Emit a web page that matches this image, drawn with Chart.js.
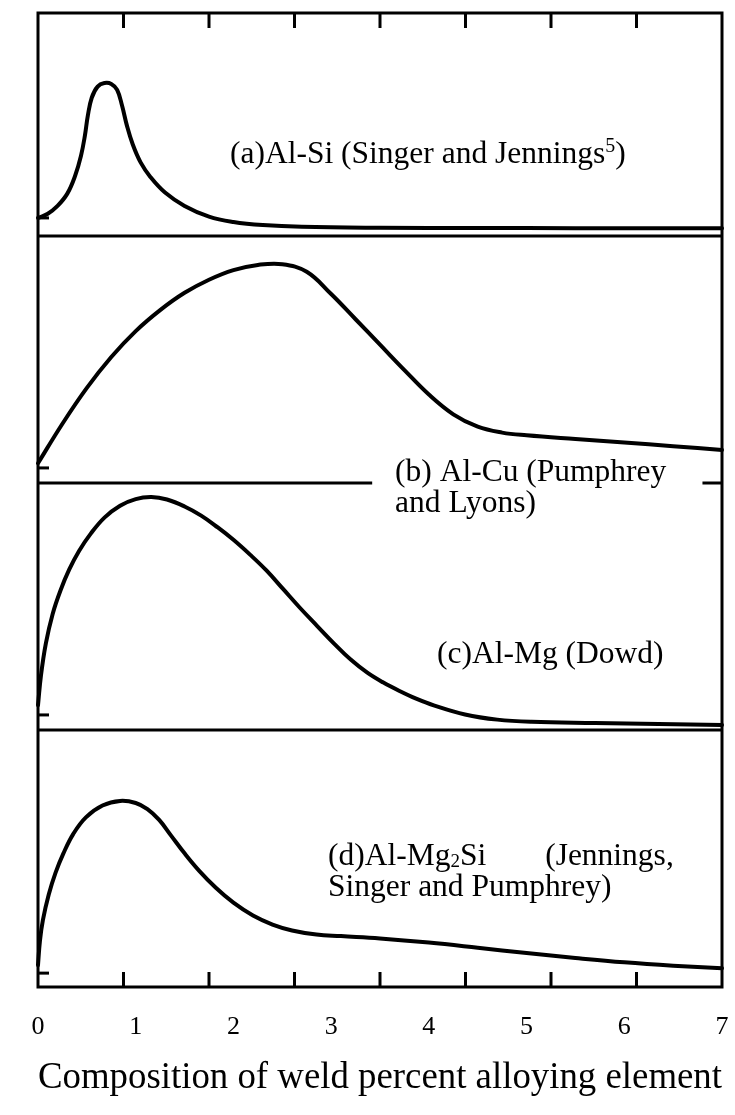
<!DOCTYPE html>
<html>
<head>
<meta charset="utf-8">
<script src="https://cdn.jsdelivr.net/npm/chart.js@4.4.0/dist/chart.umd.min.js"></script>
<style>
  html, body { margin: 0; padding: 0; background: #fff; overflow: hidden; }
  canvas { display: block; }
</style>
</head>
<body>
<canvas id="chart" width="735" height="1115"></canvas>
<script>
const X_TICKS = [0, 1, 2, 3, 4, 5, 6, 7];
const X_TITLE = "Composition of weld percent alloying element";

// (a) Al-Si
const siX = [0, 0.1, 0.2, 0.3, 0.38, 0.44, 0.48, 0.51, 0.55, 0.61, 0.68, 0.75, 0.81, 0.86, 0.91, 0.97, 1.05, 1.15, 1.3, 1.5, 1.75, 2.0, 2.3, 2.7, 3.5, 4.5, 5.5, 7.0];
const siY = [8.1, 10, 13.5, 19, 27, 36, 45, 54, 62, 67, 68.6, 68.2, 65.5, 58.5, 49.5, 41, 33, 26.5, 19.5, 13.5, 8.7, 6.3, 4.9, 4.1, 3.7, 3.6, 3.5, 3.5];

// (b) Al-Cu
const cuX = [0, 0.25, 0.5, 0.75, 1.0, 1.25, 1.5, 1.75, 2.0, 2.25, 2.5, 2.75, 3.0, 3.25, 3.5, 3.75, 4.0, 4.25, 4.5, 4.75, 5.0, 5.5, 6.0, 6.5, 7.0];
const cuY = [8, 24, 38.5, 51, 61.5, 70, 77, 82.3, 86.2, 88.3, 88.6, 85.5, 76.5, 66.3, 56, 45.7, 35.8, 27.8, 22.8, 20.4, 19.3, 17.8, 16.4, 14.9, 13.4];

// (c) Al-Mg
const mgX = [0, 0.03, 0.08, 0.15, 0.23, 0.32, 0.42, 0.54, 0.68, 0.84, 1.0, 1.16, 1.32, 1.5, 1.67, 1.84, 2.0, 2.17, 2.34, 2.51, 2.68, 2.86, 3.03, 3.2, 3.37, 3.53, 3.7, 3.87, 4.05, 4.37, 4.7, 5.05, 5.7, 6.35, 7.0];
const mgY = [10, 22, 35, 47, 56.5, 65, 72.5, 79.5, 86, 90.8, 93.5, 94.3, 93.3, 90.5, 86.8, 82, 77, 71, 64.5, 57, 49.5, 42, 35, 28.5, 23.2, 19.3, 15.8, 12.7, 10, 6.3, 4.2, 3.3, 2.8, 2.4, 2.0];

// (d) Al-Mg2Si
const mg2siX = [0, 0.02, 0.05, 0.11, 0.18, 0.26, 0.36, 0.49, 0.66, 0.84, 1.0, 1.12, 1.24, 1.36, 1.5, 1.65, 1.82, 2.0, 2.2, 2.4, 2.6, 2.85, 3.1, 3.5, 4.0, 4.5, 5.0, 5.5, 6.0, 6.5, 7.0];
const mg2siY = [8.5, 18, 26, 36, 44.5, 52, 59.5, 66, 70.6, 72.4, 71.6, 69.2, 65, 59, 52, 45.2, 38.6, 32.8, 27.8, 24.3, 22.0, 20.4, 19.8, 18.9, 17.3, 15.3, 13.2, 11.3, 9.6, 8.3, 7.3];

// short zero marks on the left edge of each panel
const baselineMarks = [8.1, 6.1, 6.1, 5.4];

const PANEL_AXES = ["ya", "yb", "yc", "yd"];
const PANEL_WEIGHTS = [223, 247, 247, 257];
const FRAME_DIVISIONS = 8;
const SERIF = "'Liberation Serif', 'Times New Roman', serif";
const LABEL_SIZE = 31.5;

const panelLabels = [
    { axis: "ya", x: 1.965, y: 32.7, lines: [[{ t: "(a)Al-Si (Singer and Jennings" }, { t: "5", sup: true }, { t: ")" }]] },
    { axis: "yb", x: 3.654, y: 0.8, box: { x0: 3.42, x1: 6.8, up: 29, down: 10 },
      lines: [[{ t: "(b) Al-Cu (Pumphrey" }], [{ t: "and Lyons)" }]] },
    { axis: "yc", x: 4.083, y: 27.1, lines: [[{ t: "(c)Al-Mg (Dowd)" }]] },
    { axis: "yd", x: 2.968, y: 47.5,
      lines: [[{ t: "(d)Al-Mg" }, { t: "2", sub: true }, { t: "Si" }, { t: "(Jennings,", at: 5.19 }],
              [{ t: "Singer and Pumphrey)" }]] }
];

function toPoints(xs, ys) {
    return xs.map((x, i) => ({ x: x, y: ys[i] }));
}

function curve(label, xs, ys, axis) {
    return {
        label: label,
        data: toPoints(xs, ys),
        yAxisID: axis,
        borderColor: "#000",
        borderWidth: 4,
        pointRadius: 0,
        fill: false,
        tension: 0.4,
        borderCapStyle: "round",
        borderJoinStyle: "round",
        clip: false
    };
}

function panelAxis(i) {
    return {
        type: "linear",
        position: "left",
        stack: "panels",
        stackWeight: PANEL_WEIGHTS[i],
        weight: 10 - i,
        min: 0,
        max: 100,
        display: false
    };
}

const framePlugin = {
    id: "frame",
    afterDatasetsDraw(chart) {
        const { ctx, chartArea: a, scales } = chart;
        const xs = scales.x;
        const line = (x1, y1, x2, y2) => {
            ctx.beginPath();
            ctx.moveTo(x1, y1);
            ctx.lineTo(x2, y2);
            ctx.stroke();
        };
        ctx.save();
        ctx.strokeStyle = "#000";
        ctx.lineWidth = 3;
        ctx.strokeRect(a.left, a.top, a.right - a.left, a.bottom - a.top);

        PANEL_AXES.slice(1).forEach(id => {
            const y = scales[id].top;
            line(a.left, y, a.right, y);
        });

        for (let k = 1; k < FRAME_DIVISIONS; k++) {
            const px = xs.getPixelForValue(k * xs.max / FRAME_DIVISIONS);
            line(px, a.top, px, a.top + 15);
            line(px, a.bottom, px, a.bottom - 15);
        }

        PANEL_AXES.forEach((id, i) => {
            const py = scales[id].getPixelForValue(baselineMarks[i]);
            line(a.left, py, a.left + 11, py);
        });

        ctx.fillStyle = "#000";
        ctx.textBaseline = "alphabetic";
        ctx.textAlign = "left";
        panelLabels.forEach(lab => {
            const ys = scales[lab.axis];
            const x0 = xs.getPixelForValue(lab.x);
            const y0 = ys.getPixelForValue(lab.y);
            const gap = 31;
            if (lab.box) {
                const bx0 = xs.getPixelForValue(lab.box.x0);
                const bx1 = xs.getPixelForValue(lab.box.x1);
                const top = y0 - lab.box.up;
                const bottom = y0 + gap * (lab.lines.length - 1) + lab.box.down;
                ctx.fillStyle = "#fff";
                ctx.fillRect(bx0, top, bx1 - bx0, bottom - top);
                ctx.fillStyle = "#000";
            }
            lab.lines.forEach((runs, li) => {
                let cx = x0;
                const by = y0 + li * gap;
                runs.forEach(r => {
                    if (r.at !== undefined) cx = xs.getPixelForValue(r.at);
                    let size = LABEL_SIZE, dy = 0;
                    if (r.sup) { size = 20; dy = -11; }
                    if (r.sub) { size = 19; dy = 2; }
                    ctx.font = size + "px " + SERIF;
                    ctx.fillText(r.t, cx, by + dy);
                    cx += ctx.measureText(r.t).width;
                });
            });
        });
        ctx.restore();
    }
};

new Chart(document.getElementById("chart"), {
    type: "line",
    data: {
        datasets: [
            curve("Al-Si", siX, siY, "ya"),
            curve("Al-Cu", cuX, cuY, "yb"),
            curve("Al-Mg", mgX, mgY, "yc"),
            curve("Al-Mg2Si", mg2siX, mg2siY, "yd")
        ]
    },
    options: {
        responsive: false,
        animation: false,
        devicePixelRatio: 1,
        layout: { padding: { top: 13, left: 38, right: 13, bottom: 0 } },
        plugins: { legend: { display: false }, tooltip: { enabled: false } },
        scales: {
            x: {
                type: "linear",
                position: "bottom",
                min: X_TICKS[0],
                max: X_TICKS[X_TICKS.length - 1],
                afterBuildTicks: axis => { axis.ticks = X_TICKS.map(v => ({ value: v })); },
                grid: { display: true, drawOnChartArea: false, drawTicks: true, tickLength: 25, color: "rgba(0,0,0,0)" },
                border: { display: false },
                ticks: { font: { family: SERIF, size: 26 }, color: "#000", padding: 0, maxRotation: 0, autoSkip: false },
                title: { display: true, text: X_TITLE, color: "#000",
                         font: { family: SERIF, size: 37 }, padding: { top: 12.6, bottom: 14.8 } }
            },
            ya: panelAxis(0),
            yb: panelAxis(1),
            yc: panelAxis(2),
            yd: panelAxis(3)
        }
    },
    plugins: [framePlugin]
});
</script>
</body>
</html>
